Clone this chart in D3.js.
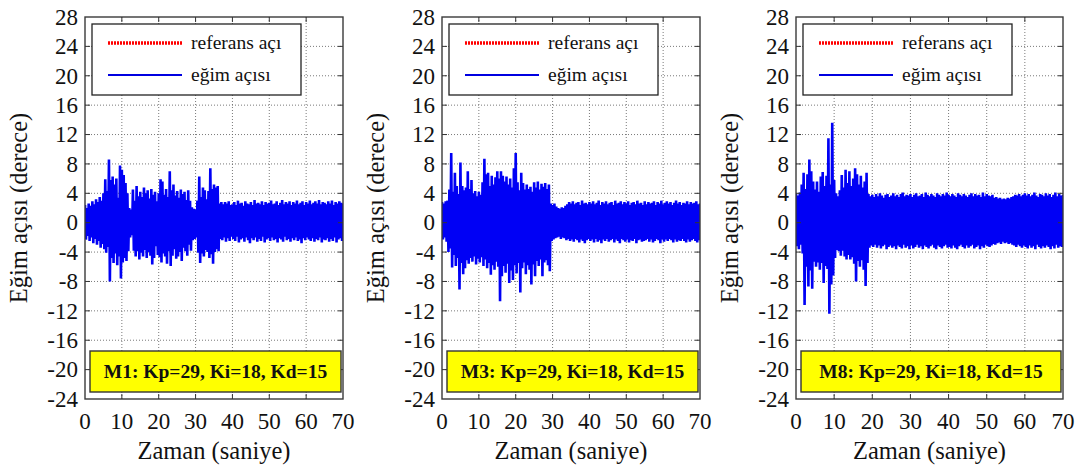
<!DOCTYPE html>
<html>
<head>
<meta charset="utf-8">
<script src="https://cdn.jsdelivr.net/npm/d3@7/dist/d3.min.js"></script>
<style>
  body { margin: 0; background: #fff; }
  svg { display: block; }
</style>
</head>
<body>
<svg id="chart" width="1083" height="468"></svg>
<script>
// ---- data -----------------------------------------------------------------
const xTicks = [0, 10, 20, 30, 40, 50, 60, 70];
const yTicks = [-24, -20, -16, -12, -8, -4, 0, 4, 8, 12, 16, 20, 24, 28];
const timeDomain = [0, 70];
const angleDomain = [-24, 28];
const sampleStep = 0.5;               // seconds between stored peak samples
const referenceTimes = [0, 70];
const referenceAngle = [0, 0];        // referans açı (derece)
const legendLabels = ["referans açı", "eğim açısı"];
const caseLabels = ["M1: Kp=29, Ki=18, Kd=15", "M3: Kp=29, Ki=18, Kd=15", "M8: Kp=29, Ki=18, Kd=15"];
const xTitle = "Zaman (saniye)";
const yTitle = "Eğim açısı (derece)";

// positive / negative peaks of the tilt angle, one pair per 0.5 s
const m1Upper = [
  2.4, 2.0, 2.6, 2.3, 2.9, 2.5, 3.2, 2.8, 3.5, 3.0,
  4.0, 5.9, 4.3, 8.6, 5.8, 6.3, 5.2, 6.0, 3.4, 7.8,
  7.2, 6.5, 5.4, 4.0, 2.0, 1.8, 4.5, 3.0, 5.0, 3.6,
  4.2, 3.5, 4.8, 4.0, 4.4, 3.3, 4.6, 3.8, 4.2, 2.9,
  4.0, 5.9, 5.6, 3.8, 4.6, 3.5, 7.0, 4.4, 5.2, 3.7,
  4.3, 3.4, 4.5, 3.9, 4.2, 3.1, 4.4, 3.0, 2.1, 1.9,
  1.8, 3.0, 6.3, 3.5, 4.8, 4.4, 3.2, 4.3, 7.4, 4.6,
  5.2, 4.8, 5.0, 2.6, 2.8, 2.5, 2.8, 2.6, 2.9, 2.4,
  2.5, 2.8, 2.4, 3.0, 2.6, 2.7, 2.3, 2.9, 2.6, 2.5,
  2.8, 2.4, 3.1, 2.6, 2.7, 2.5, 2.9, 2.4, 2.8, 2.6,
  2.7, 3.0, 2.5, 2.6, 2.9, 2.4, 2.7, 3.1, 2.5, 2.8,
  2.6, 2.9, 2.4, 2.8, 2.6, 3.0, 2.5, 2.7, 2.9, 2.4,
  2.8, 2.6, 3.0, 2.5, 2.7, 2.9, 2.6, 3.1, 2.5, 2.8,
  2.7, 2.5, 2.9, 2.6, 3.0, 2.4, 2.8, 2.6, 2.9, 2.7,
  2.6
];
const m1Lower = [
  -2.3, -1.8, -2.5, -2.0, -2.8, -2.2, -3.0, -2.5, -3.4, -2.9,
  -3.6, -4.1, -3.3, -8.0, -4.8, -5.5, -4.2, -5.8, -4.6, -7.6,
  -5.4, -4.8, -5.2, -3.9, -2.0, -1.7, -3.8, -4.6, -3.9, -5.0,
  -4.1, -4.6, -3.7, -4.8, -4.0, -4.5, -5.7, -4.8, -3.2, -4.4,
  -4.7, -5.4, -4.2, -4.6, -5.6, -3.9, -5.9, -4.5, -3.6, -4.9,
  -4.6, -4.0, -5.2, -3.4, -3.9, -4.5, -3.0, -3.8, -2.4, -2.2,
  -2.0, -4.1, -5.5, -4.2, -4.6, -3.7, -4.0, -4.8, -4.3, -5.6,
  -4.0, -3.6, -3.9, -2.2, -2.4, -2.0, -2.6, -2.1, -2.5, -1.9,
  -2.2, -2.5, -1.9, -2.7, -2.3, -2.1, -2.6, -2.0, -2.4, -2.8,
  -2.1, -2.4, -2.0, -2.6, -2.2, -2.5, -1.9, -2.7, -2.3, -2.1,
  -2.5, -2.0, -2.4, -2.2, -2.7, -2.1, -2.3, -2.6, -1.9, -2.4,
  -2.2, -2.6, -2.1, -2.4, -2.0, -2.5, -2.3, -2.8, -2.1, -2.4,
  -2.0, -2.3, -2.5, -2.1, -2.6, -2.2, -2.4, -2.0, -2.7, -2.3,
  -2.4, -2.1, -2.6, -2.2, -2.5, -2.0, -2.7, -2.3, -2.1, -2.5,
  -2.2
];
const m3Upper = [
  2.8, 2.6, 2.9, 3.0, 4.5, 9.5, 4.2, 6.8, 5.0, 3.9,
  8.2, 5.0, 4.4, 4.8, 7.0, 4.6, 5.8, 4.0, 4.3, 3.6,
  4.2, 3.8, 5.5, 8.7, 6.6, 6.8, 5.0, 6.4, 5.2, 6.2,
  7.0, 6.0, 7.0, 6.4, 5.6, 6.3, 5.2, 6.0, 4.8, 7.4,
  9.5, 5.5, 4.4, 6.8, 5.4, 4.5, 5.2, 4.6, 4.9, 4.2,
  5.5, 4.8, 5.6, 4.5, 5.3, 4.9, 5.4, 4.6, 5.2, 2.6,
  2.4, 2.6, 2.2, 2.0, 1.9, 2.1, 2.0, 2.3, 2.5, 2.8,
  2.6, 2.9, 2.5, 2.7, 2.8, 2.4, 3.0, 2.6, 2.7, 2.5,
  2.8, 2.6, 2.9, 2.5, 2.7, 3.0, 2.4, 2.8, 2.6, 2.9,
  2.5, 2.7, 2.8, 2.4, 3.0, 2.6, 2.7, 2.9, 2.5, 2.8,
  2.6, 2.9, 2.4, 2.7, 2.8, 2.5, 3.0, 2.6, 2.7, 2.4,
  2.9, 2.5, 2.8, 2.6, 2.7, 2.9, 2.4, 2.8, 2.6, 3.0,
  2.5, 2.7, 2.9, 2.6, 2.8, 2.4, 2.7, 3.0, 2.6, 2.8,
  2.4, 2.7, 2.6, 2.9, 2.5, 2.8, 2.6, 2.7, 2.9, 2.5,
  2.6
];
const m3Lower = [
  -2.3, -2.0, -2.6, -4.0, -3.5, -6.1, -4.4, -5.9, -4.8, -9.1,
  -5.5, -7.0, -6.2, -5.1, -5.6, -4.8, -5.3, -4.6, -5.7, -4.9,
  -5.4, -4.7, -5.9, -5.0, -6.2, -5.5, -7.1, -5.8, -6.4, -5.3,
  -6.0, -10.7, -7.3, -5.9, -6.8, -5.6, -8.2, -6.5, -7.8, -5.8,
  -6.9, -5.5, -9.5, -6.2, -5.4, -7.0, -5.8, -6.4, -8.4, -5.7,
  -7.3, -5.2, -5.9, -5.0, -7.3, -5.4, -5.1, -5.8, -6.6, -2.5,
  -2.3, -2.1, -2.0, -1.9, -2.2, -2.0, -2.1, -2.4, -2.2, -2.5,
  -2.3, -2.6, -2.2, -2.4, -2.7, -2.3, -2.5, -2.8, -2.4, -2.2,
  -2.5, -2.3, -2.7, -2.2, -2.6, -2.4, -2.8, -2.3, -2.5, -2.2,
  -2.6, -2.4, -2.2, -2.7, -2.3, -2.5, -2.8, -2.2, -2.4, -2.6,
  -2.3, -2.7, -2.4, -2.5, -2.2, -2.8, -2.4, -2.3, -2.6, -2.5,
  -2.4, -2.2, -2.6, -2.3, -2.7, -2.5, -2.2, -2.4, -2.8, -2.3,
  -2.6, -2.3, -2.5, -2.2, -2.4, -2.7, -2.3, -2.6, -2.4, -2.5,
  -2.2, -2.5, -2.7, -2.3, -2.6, -2.4, -2.2, -2.5, -2.7, -2.4,
  -2.3
];
const m8Upper = [
  4.0, 3.7, 4.1, 5.2, 6.8, 4.6, 6.6, 8.6, 7.0, 5.6,
  4.5, 5.6, 4.2, 6.3, 6.9, 5.0, 6.4, 11.5, 5.2, 13.6,
  5.8, 4.0, 3.6, 4.4, 6.5, 4.8, 7.2, 5.4, 7.0, 5.0,
  6.0, 7.4, 6.6, 5.2, 6.4, 4.8, 5.6, 6.8, 3.9, 3.6,
  3.8, 3.5, 3.9, 3.6, 4.0, 3.7, 3.4, 3.8, 3.9, 3.5,
  3.7, 4.0, 3.6, 3.8, 3.5, 3.9, 4.1, 3.6, 3.8, 3.7,
  3.9, 3.5, 3.8, 4.0, 3.6, 3.7, 3.9, 3.5, 4.1, 3.8,
  3.6, 3.9, 3.7, 3.5, 4.0, 3.8, 3.6, 3.9, 3.7, 4.1,
  3.8, 3.6, 3.9, 3.7, 3.5, 4.0, 3.8, 3.6, 3.9, 3.7,
  3.5, 3.8, 4.0, 3.6, 3.9, 3.7, 3.8, 3.5, 4.1, 3.6,
  3.9, 3.7, 3.6, 3.8, 3.4, 3.5, 3.3, 3.4, 3.2, 3.3,
  3.2, 3.4, 3.3, 3.5, 3.6, 3.8, 3.7, 3.9, 3.6, 3.8,
  4.0, 3.7, 3.9, 3.6, 3.8, 4.1, 3.7, 3.5, 3.9, 3.8,
  3.6, 4.0, 3.7, 3.9, 3.5, 3.8, 4.1, 3.6, 3.9, 3.7,
  3.8
];
const m8Lower = [
  -3.2, -3.6, -3.0, -4.2, -11.2, -6.0, -8.7, -6.5, -9.0, -5.3,
  -6.0, -5.4, -6.4, -5.5, -8.2, -5.9, -6.3, -12.4, -8.4, -7.2,
  -4.8, -3.7, -3.9, -4.5, -3.8, -4.6, -5.0, -4.4, -5.0, -4.7,
  -5.6, -8.0, -5.2, -6.0, -5.1, -6.4, -8.6, -5.5, -3.4, -3.1,
  -3.3, -3.0, -3.4, -3.1, -3.5, -3.2, -3.0, -3.6, -3.3, -3.1,
  -3.4, -3.2, -3.6, -3.1, -3.3, -3.5, -3.0, -3.4, -3.2, -3.6,
  -3.1, -3.5, -3.3, -3.0, -3.4, -3.2, -3.6, -3.1, -3.3, -3.5,
  -3.2, -3.0, -3.4, -3.6, -3.1, -3.3, -3.5, -3.2, -3.0, -3.4,
  -3.3, -3.5, -3.1, -3.4, -3.6, -3.2, -3.0, -3.3, -3.5, -3.1,
  -3.4, -3.2, -3.0, -3.5, -3.3, -3.1, -3.6, -3.2, -3.4, -3.0,
  -3.2, -3.3, -3.1, -2.9, -3.0, -2.8, -2.7, -2.9, -2.6, -2.8,
  -2.7, -2.9, -2.8, -3.0, -3.1, -3.3, -3.0, -3.2, -3.4, -3.1,
  -3.3, -3.5, -3.1, -3.4, -3.2, -3.6, -3.0, -3.3, -3.5, -3.2,
  -3.4, -3.1, -3.3, -3.6, -3.2, -3.5, -3.0, -3.4, -3.2, -3.3,
  -3.1
];

// ---- layout -----------------------------------------------------------------
const FONT = "Liberation Serif";
const plotTop = 17, plotBottom = 399;
const panels = [
  { left: 85,  right: 343,  upper: m1Upper, lower: m1Lower, label: caseLabels[0] },
  { left: 442, right: 700,  upper: m3Upper, lower: m3Lower, label: caseLabels[1] },
  { left: 796, right: 1063, upper: m8Upper, lower: m8Lower, label: caseLabels[2] }
];

const svg = d3.select("#chart");

panels.forEach((p, k) => {
  const x = d3.scaleLinear().domain(timeDomain).range([p.left, p.right]);
  const y = d3.scaleLinear().domain(angleDomain).range([plotBottom, plotTop]);
  const g = svg.append("g");
  const w = p.right - p.left, h = plotBottom - plotTop;

  // dotted grid
  const grid = g.append("g").attr("stroke", "#6a6a6a").attr("stroke-width", 0.9)
    .attr("stroke-dasharray", "1,2");
  grid.selectAll("line.gx").data(xTicks.slice(1, -1)).join("line")
    .attr("x1", d => x(d)).attr("x2", d => x(d)).attr("y1", plotTop).attr("y2", plotBottom);
  grid.selectAll("line.gy").data(yTicks.slice(1, -1)).join("line")
    .attr("x1", p.left).attr("x2", p.right).attr("y1", d => y(d)).attr("y2", d => y(d));

  // clip to plot area
  const clipId = "clip" + k;
  svg.append("clipPath").attr("id", clipId)
    .append("rect").attr("x", p.left).attr("y", plotTop).attr("width", w).attr("height", h);

  // reference angle (drawn first, under the response)
  const refPts = referenceTimes.map((t, i) => [t, referenceAngle[i]]);
  g.append("path").datum(refPts)
    .attr("clip-path", `url(#${clipId})`)
    .attr("fill", "none").attr("stroke", "#ff0000").attr("stroke-width", 3)
    .attr("stroke-dasharray", "2,1")
    .attr("d", d3.line().x(d => x(d[0])).y(d => y(d[1])));

  // tilt angle response: alternate positive and negative peaks
  const pts = [];
  p.upper.forEach((v, i) => {
    const t = i * sampleStep;
    pts.push([t, v]);
    pts.push([t + sampleStep / 2, p.lower[i]]);
  });
  g.append("path").datum(pts)
    .attr("clip-path", `url(#${clipId})`)
    .attr("fill", "none").attr("stroke", "#0000f5").attr("stroke-width", 2.6)
    .attr("stroke-linejoin", "bevel")
    .attr("d", d3.line().x(d => x(d[0])).y(d => y(d[1])));

  // inner ticks on all four sides
  const tk = g.append("g").attr("stroke", "#333").attr("stroke-width", 1);
  xTicks.slice(1, -1).forEach(d => {
    tk.append("line").attr("x1", x(d)).attr("x2", x(d)).attr("y1", plotBottom).attr("y2", plotBottom - 5);
    tk.append("line").attr("x1", x(d)).attr("x2", x(d)).attr("y1", plotTop).attr("y2", plotTop + 5);
  });
  yTicks.slice(1, -1).forEach(d => {
    tk.append("line").attr("x1", p.left).attr("x2", p.left + 5).attr("y1", y(d)).attr("y2", y(d));
    tk.append("line").attr("x1", p.right).attr("x2", p.right - 5).attr("y1", y(d)).attr("y2", y(d));
  });

  // frame
  g.append("rect").attr("x", p.left).attr("y", plotTop).attr("width", w).attr("height", h)
    .attr("fill", "none").attr("stroke", "#3a3a3a").attr("stroke-width", 1.4);

  // tick labels
  g.selectAll("text.xt").data(xTicks).join("text")
    .attr("x", d => x(d)).attr("y", 429)
    .attr("text-anchor", "middle").attr("font-family", FONT).attr("font-size", 23)
    .attr("fill", "#111").text(d => d);
  g.selectAll("text.yt").data(yTicks).join("text")
    .attr("x", p.left - 7).attr("y", d => y(d) + 7.8)
    .attr("text-anchor", "end").attr("font-family", FONT).attr("font-size", 23)
    .attr("fill", "#111").text(d => d);

  // axis titles
  g.append("text").attr("x", (p.left + p.right) / 2).attr("y", 459)
    .attr("text-anchor", "middle").attr("font-family", FONT).attr("font-size", 24.5)
    .attr("fill", "#111").text(xTitle);
  g.append("text")
    .attr("transform", `translate(${p.left - 58},${(plotTop + plotBottom) / 2}) rotate(-90)`)
    .attr("text-anchor", "middle").attr("font-family", FONT).attr("font-size", 24.5)
    .attr("fill", "#111").text(yTitle);

  // legend
  const lg = g.append("g").attr("transform", `translate(${p.left + 7},24)`);
  lg.append("rect").attr("width", 209).attr("height", 71)
    .attr("fill", "#fff").attr("stroke", "#222").attr("stroke-width", 1.3);
  lg.append("line").attr("x1", 16).attr("x2", 90).attr("y1", 19).attr("y2", 19)
    .attr("stroke", "#ff0000").attr("stroke-width", 3.5).attr("stroke-dasharray", "2,1");
  lg.append("line").attr("x1", 16).attr("x2", 90).attr("y1", 51).attr("y2", 51)
    .attr("stroke", "#0000e0").attr("stroke-width", 2.2);
  lg.selectAll("text").data(legendLabels).join("text")
    .attr("x", 99).attr("y", (d, i) => 25 + i * 32)
    .attr("font-family", FONT).attr("font-size", 19.5).attr("fill", "#111").text(d => d);

  // case label box
  const bx = p.left + 5, bw = w - 7;
  g.append("rect").attr("x", bx).attr("y", 351).attr("width", bw).attr("height", 41)
    .attr("fill", "#ffff00").attr("stroke", "#333").attr("stroke-width", 1.4);
  g.append("text").attr("x", bx + bw / 2).attr("y", 378)
    .attr("text-anchor", "middle").attr("font-family", FONT).attr("font-size", 19.5)
    .attr("font-weight", "bold").attr("fill", "#111").text(p.label);
});
</script>
</body>
</html>
